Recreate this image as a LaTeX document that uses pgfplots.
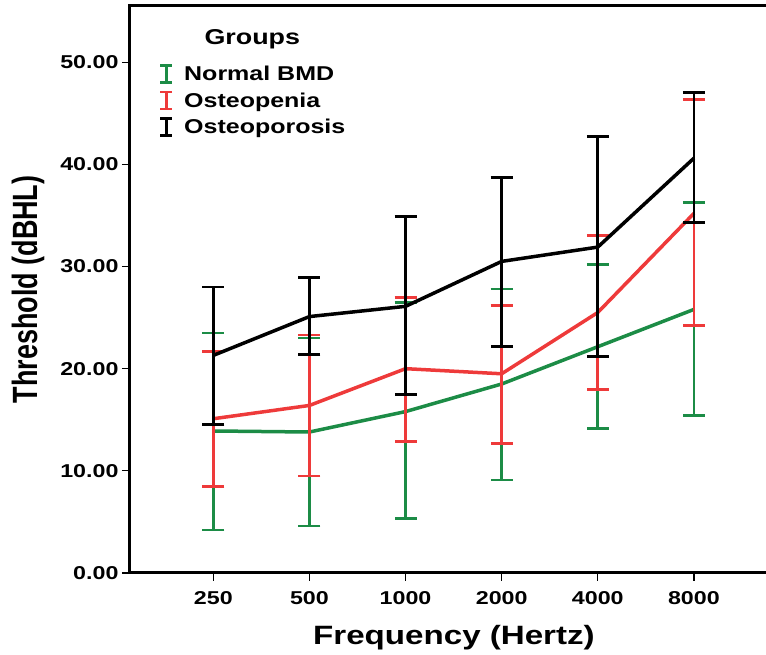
\documentclass[border=0pt]{standalone}
\usepackage{fontspec}
\setmainfont{Liberation Sans}[FakeStretch=1.25]
\newfontfamily\plainsans{Liberation Sans}
\usepackage{pgfplots}
\pgfplotsset{compat=1.18}
\usepackage{pgfplotstable}

\definecolor{normalc}{RGB}{28,140,70}
\definecolor{peniac}{RGB}{238,58,58}

% x: 0=250 Hz ... 5=8000 Hz; ep/em = upper/lower error length
\pgfplotstableread{
x y ep em
0 13.9 9.6 9.7
1 13.8 9.2 9.2
2 15.8 10.65 10.45
3 18.5 9.3 9.4
4 22.15 8.05 8.0
5 25.8 10.5 10.4
}\normalbmd

\pgfplotstableread{
x y ep em
0 15.1 6.6 6.65
1 16.4 6.9 6.9
2 20.0 7.0 7.1
3 19.5 6.7 6.8
4 25.5 7.5 7.5
5 35.2 11.15 11.0
}\osteopenia

\pgfplotstableread{
x y ep em
0 21.3 6.7 6.8
1 25.1 3.8 3.7
2 26.1 8.8 8.6
3 30.5 8.2 8.3
4 31.9 10.8 10.7
5 40.6 6.4 6.3
}\osteoporosis

\begin{document}
\begin{tikzpicture}
\begin{axis}[
  name=ax,
  scale only axis,
  width=636pt, height=567pt,
  xmin=-0.867, xmax=5.75,
  ymin=0, ymax=55.5,
  axis x line*=bottom,
  axis y line*=left,
  axis line style={line width=3pt, -},
  xtick={0,1,2,3,4,5},
  xticklabels={250,500,1000,2000,4000,8000},
  ytick={0,10,20,30,40,50},
  yticklabels={0.00,10.00,20.00,30.00,40.00,50.00},
  tick align=outside,
  major tick length=8pt,
  tick style={line width=1.3pt, black},
  tick label style={font=\fontsize{18.6}{20}\selectfont\bfseries},
  xticklabel style={yshift=-7pt},
  xlabel={Frequency (Hertz)},
  ylabel={\plainsans\scalebox{1}[1.3]{Threshold (dBHL)}},
  xlabel style={font=\fontsize{26.5}{30}\selectfont\bfseries, at={([xshift=6pt, yshift=-72pt]rel axis cs:0.5,0)}, anchor=base},
  ylabel style={font=\fontsize{27}{30}\selectfont\bfseries, at={([xshift=-102pt]rel axis cs:0,0.5)}, anchor=center},
  clip=false,
  legend style={at={(rel axis cs:0,1)}, anchor=north west, xshift=29pt, yshift=-58pt,
    draw=none, fill=none, inner sep=0pt, row sep=6.5pt,
    /tikz/every even column/.append style={column sep=0pt},
    font=\fontsize{20}{22}\selectfont\bfseries},
  legend cell align=left,
  legend image code/.code={
    \draw[#1, line width=2.5pt] (5pt,-8.5pt) -- (5pt,8.5pt)
      (-1pt,-8.5pt) -- (11pt,-8.5pt) (-1pt,8.5pt) -- (11pt,8.5pt);
    \path (19pt,0pt);
  },
  every axis plot/.append style={line width=3.5pt, no markers,
    error bars/y dir=both, error bars/y explicit,
    error bars/error bar style={line width=2.8pt},
    error bars/error mark options={rotate=90, mark size=11pt, line width=2.8pt}},
]
\addplot[normalc] table[x=x, y=y, y error plus=ep, y error minus=em] {\normalbmd};
\addlegendentry{Normal BMD}
\addplot[peniac] table[x=x, y=y, y error plus=ep, y error minus=em] {\osteopenia};
\addlegendentry{Osteopenia}
\addplot[black] table[x=x, y=y, y error plus=ep, y error minus=em] {\osteoporosis};
\addlegendentry{Osteoporosis}

\draw[line width=3pt] ([xshift=-1.5pt]rel axis cs:0,1) -- (rel axis cs:1,1);
\node[anchor=base west, font=\fontsize{21.5}{24}\selectfont\bfseries]
  at ([xshift=71pt, yshift=-39pt]rel axis cs:0,1) {Groups};
\end{axis}
\pgfresetboundingbox
\path ([xshift=-130pt, yshift=6pt]ax.north west) rectangle ([yshift=-82pt]ax.south east);
\end{tikzpicture}
\end{document}
